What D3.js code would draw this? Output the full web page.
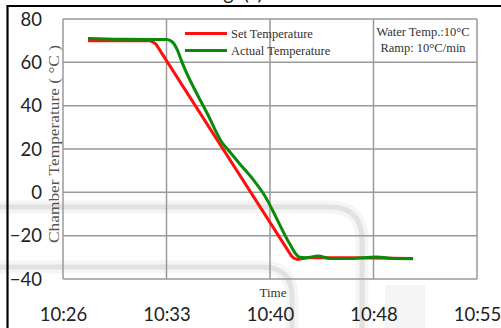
<!DOCTYPE html>
<html><head><meta charset="utf-8">
<script src="https://cdn.jsdelivr.net/npm/d3@7"></script>
<style>body{margin:0;background:#fff;}svg{display:block;}</style>
</head><body>
<svg id="c" width="501" height="328"></svg>
<script>
// minutes after 10:26
const setT   = [1.75, 6.0, 6.25, 6.5, 16.0, 16.2, 16.45, 16.8, 17.1, 20.0, 24.52];
const setV   = [70, 70, 69.6, 68.5, -29.3, -30.5, -31, -30.6, -30.2, -30.2, -30.5];
const actT   = [1.75, 4.0, 7.28, 7.64, 7.99, 8.34, 10.16, 11.14, 11.49, 12.4, 13.31, 14.01, 15.9, 16.32, 16.6, 17.02, 17.86, 18.7, 20.1, 21.99, 22.91, 24.52];
const actV   = [71, 70.6, 70.5, 69.5, 66, 60, 35.7, 23, 20.2, 13, 6, -0.3, -24, -28.5, -30, -30.2, -29.4, -30.5, -30.5, -29.8, -30.4, -30.6];
const xTickVals = [0, 7.25, 14.5, 21.75, 29];
const xTickLabels = ["10:26", "10:33", "10:40", "10:48", "10:55"];
const yTicks = [-40, -20, 0, 20, 40, 60, 80];
const legendNames = ["Set Temperature", "Actual Temperature"];
const noteLines = ["Water Temp.:10°C", "Ramp: 10°C/min"];

const svg = d3.select("#c");
const L = 63, R = 477, T = 19, B = 279;
const x = d3.scaleLinear().domain([0, 29]).range([L, R]);
const y = d3.scaleLinear().domain([-40, 80]).range([B, T]);

// watermark bands
const wm = svg.append("g");
const bands = [
  "M0,207 L330,207 Q362,207 362,240 L362,340",
  "M0,267 L262,267 Q292,267 292,297 L292,340"
];
bands.forEach(d => {
  wm.append("path").attr("d", d).attr("fill", "none").attr("stroke", "#f5f5f5").attr("stroke-width", 13);
  wm.append("path").attr("d", d).attr("fill", "none").attr("stroke", "#e2e2e2").attr("stroke-width", 5);
});
wm.append("rect").attr("x", 385).attr("y", 285).attr("width", 40).attr("height", 50).attr("fill", "#f5f5f5");

// grid
const g = svg.append("g");
g.selectAll(".hy").data(yTicks).join("line")
  .attr("x1", L).attr("x2", R).attr("y1", d => y(d)).attr("y2", d => y(d))
  .attr("stroke", "#9a9a9a").attr("stroke-width", 1.5);
g.selectAll(".vx").data(xTickVals).join("line")
  .attr("y1", T).attr("y2", B).attr("x1", d => x(d)).attr("x2", d => x(d))
  .attr("stroke", "#9a9a9a").attr("stroke-width", 1.5);

// axes labels
const yAxis = d3.axisLeft(y).tickValues(yTicks).tickSize(0).tickPadding(21);
const ya = svg.append("g").attr("transform", `translate(${L},0)`).call(yAxis);
ya.select(".domain").remove();
ya.selectAll("text").attr("font-family", "Lato, sans-serif").attr("font-size", 18.5).attr("fill", "#222").attr("dy", "0.34em");

const xAxis = d3.axisBottom(x).tickValues(xTickVals).tickSize(0).tickPadding(0)
  .tickFormat((d, i) => xTickLabels[i]);
const xa = svg.append("g").attr("transform", `translate(0,${B + 42})`).call(xAxis);
xa.select(".domain").remove();
xa.selectAll("text").attr("font-family", "Lato, sans-serif").attr("font-size", 18.5).attr("fill", "#222").attr("dy", 0);

// axis titles
svg.append("text").attr("transform", "translate(59,144) rotate(-90)").attr("text-anchor", "middle")
  .attr("font-family", "'Liberation Serif', serif").attr("font-size", 15).attr("fill", "#555")
  .attr("textLength", 198).attr("lengthAdjust", "spacingAndGlyphs")
  .text("Chamber Temperature ( °C )");
svg.append("text").attr("x", 273).attr("y", 297).attr("text-anchor", "middle")
  .attr("font-family", "'Liberation Serif', serif").attr("font-size", 13).attr("fill", "#333").text("Time");

// lines
const setLine = d3.line().x(d => x(d[0])).y(d => y(d[1])).curve(d3.curveLinear);
const actLine = d3.line().x(d => x(d[0])).y(d => y(d[1])).curve(d3.curveMonotoneX);
const setData = setT.map((t, i) => [t, setV[i]]);
const actData = actT.map((t, i) => [t, actV[i]]);
svg.append("path").datum(setData).attr("d", setLine).attr("fill", "none").attr("stroke", "#ff1010").attr("stroke-width", 3).attr("stroke-linejoin", "round");
svg.append("path").datum(actData).attr("d", actLine).attr("fill", "none").attr("stroke", "#098a09").attr("stroke-width", 3);

// legend
const colors = ["#ff1010", "#098a09"];
const leg = svg.append("g");
legendNames.forEach((n, i) => {
  const yy = 33.5 + i * 17;
  leg.append("line").attr("x1", 185).attr("x2", 227).attr("y1", yy).attr("y2", yy).attr("stroke", colors[i]).attr("stroke-width", 3);
  leg.append("text").attr("x", 231).attr("y", yy + 4).attr("font-family", "'Liberation Serif', serif")
    .attr("font-size", 12.5).attr("fill", "#333").text(n);
});
noteLines.forEach((n, i) => {
  svg.append("text").attr("x", 423).attr("y", 36 + i * 15.5).attr("text-anchor", "middle")
    .attr("font-family", "'Liberation Serif', serif").attr("font-size", 12.5).attr("fill", "#333").text(n);
});

// outer frame & clipped caption
svg.append("text").attr("x", 235).attr("y", 0).attr("text-anchor", "middle")
  .attr("font-family", "Lato, sans-serif").attr("font-size", 20).attr("fill", "#222").text("Fig. (c)");
svg.append("line").attr("x1", 7).attr("x2", 501).attr("y1", 6).attr("y2", 6).attr("stroke", "#000").attr("stroke-width", 2.2);
svg.append("line").attr("x1", 7.5).attr("x2", 7.5).attr("y1", 5).attr("y2", 328).attr("stroke", "#000").attr("stroke-width", 2.2);
</script>
</body></html>
